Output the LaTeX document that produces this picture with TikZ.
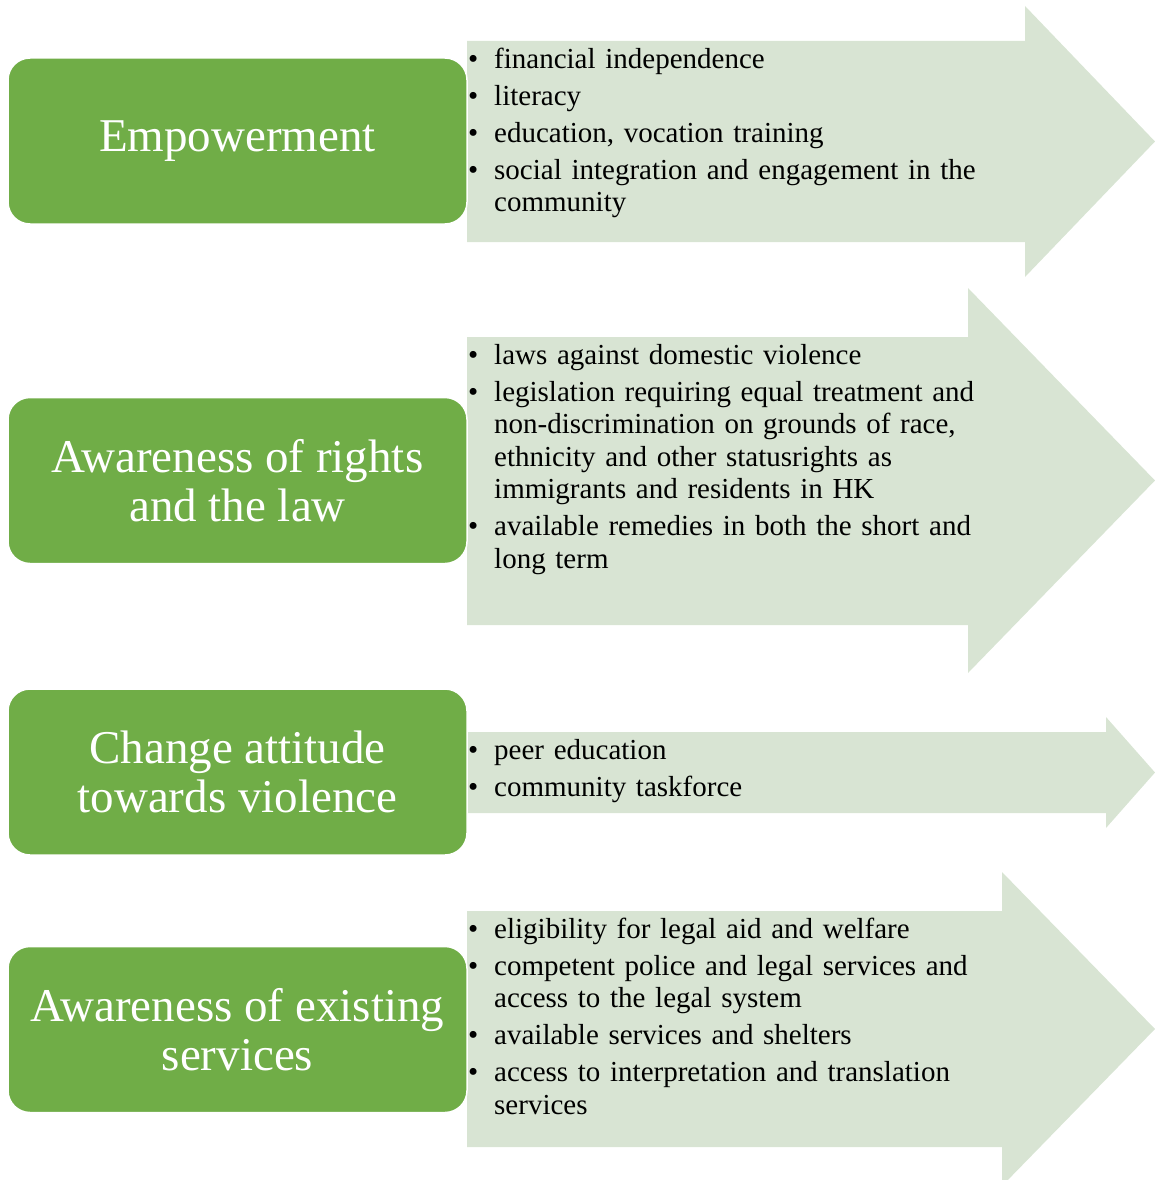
\documentclass[tikz,border=0pt]{standalone}
\usepackage{fontspec}
\setmainfont{Liberation Serif}
\usepackage{tikz}
\usetikzlibrary{positioning}
\definecolor{boxgreen}{RGB}{112,173,71}
\definecolor{arrowgreen}{RGB}{216,228,211}
\tikzset{>=latex}
\tikzset{
  gbox/.style={draw=white,line width=1.5pt,fill=boxgreen,rounded corners=22pt,
    minimum width=459pt,minimum height=166pt,inner sep=0pt,text=white,align=center,
    font=\fontsize{47}{49}\selectfont},
  blist/.style={anchor=north west,inner sep=0pt,text width=620pt,align=left,
    font=\fontsize{29}{32.5}\selectfont}
}
\newcommand{\bul}[1]{\hangindent=26pt\hangafter=1\noindent\makebox[26pt][l]{\textbullet}#1\par}
\newcommand{\firstline}{\rule{0pt}{27pt}}

\begin{document}
\begin{tikzpicture}[x=1pt,y=-1pt]
\useasboundingbox (0,0) rectangle (1155,1180);
\fill[arrowgreen] (467,41) -- (1025,41) -- (1025,6) -- (1155,141.5) -- (1025,277) -- (1025,242) -- (467,242) -- cycle;
\fill[arrowgreen] (467,337) -- (968,337) -- (968,288) -- (1155,480.5) -- (968,673) -- (968,625) -- (467,625) -- cycle;
\fill[arrowgreen] (467,732) -- (1106,732) -- (1106,717) -- (1155,772.5) -- (1106,828) -- (1106,813) -- (467,813) -- cycle;
\fill[arrowgreen] (467,911) -- (1002,911) -- (1002,872) -- (1155,1029) -- (1002,1186) -- (1002,1147) -- (467,1147) -- cycle;
\node[gbox] (emp) at (237.5,141) {Empowerment};
\node[gbox] (rights) at (237.5,480.5) {Awareness of rights\\and the law};
\node[gbox] (attitude) at (237.5,772) {Change attitude\\towards violence};
\node[gbox] (services) at (237.5,1029.5) {Awareness of existing\\services};
\node[blist] (empl) at (468,41) {\setlength{\parskip}{4.5pt}\firstline
  \bul{financial independence}
  \bul{literacy}
  \bul{education, vocation training}
  \bul{social integration and engagement in the\newline community}};
\node[blist] (rightsl) at (468,337) {\setlength{\parskip}{4.5pt}\firstline
  \bul{laws against domestic violence}
  \bul{legislation requiring equal treatment and\newline non-discrimination on grounds of race,\newline ethnicity and other statusrights as\newline immigrants and residents in HK}
  \bul{available remedies in both the short and\newline long term}};
\node[blist] (attitudel) at (468,732) {\setlength{\parskip}{4.5pt}\firstline
  \bul{peer education}
  \bul{community taskforce}};
\node[blist] (servicesl) at (468,911) {\setlength{\parskip}{4.5pt}\firstline
  \bul{eligibility for legal aid and welfare}
  \bul{competent police and legal services and\newline access to the legal system}
  \bul{available services and shelters}
  \bul{access to interpretation and translation\newline services}};
\end{tikzpicture}
\end{document}
